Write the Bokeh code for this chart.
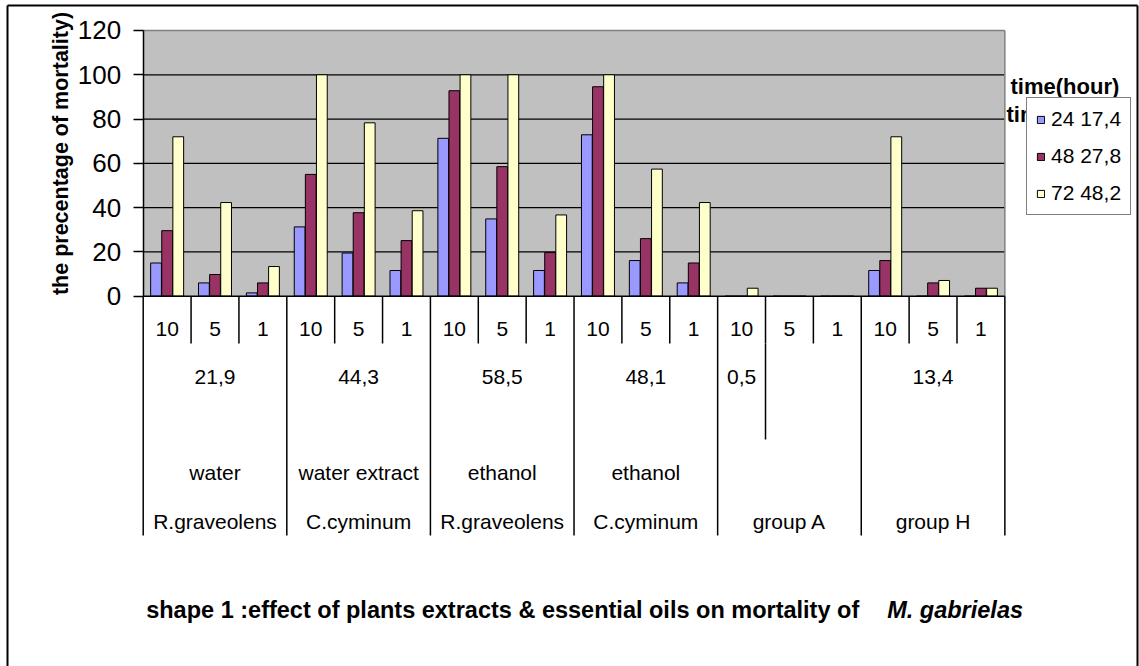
import numpy as np
from math import pi
from bokeh.plotting import figure
from bokeh.models import (ColumnDataSource, LinearAxis, FixedTicker, Range1d,
                          Legend, LegendItem)
from bokeh.core.properties import value
from bokeh.transform import dodge
from bokeh.embed import file_html
from bokeh.resources import INLINE

# ---------------- data ----------------
dose_labels = ["10", "5", "1", "10", "5", "1", "10", "5", "1",
               "10", "5", "1", "10", "5", "1", "10", "5", "1"]
lc50_labels = ["21,9", "44,3", "58,5", "48,1", "0,5", "", "13,4"]
lc50_spans = [3, 3, 3, 3, 1, 2, 3]          # dose columns covered by each LC50 cell
extract_labels = ["water", "water extract", "ethanol", "ethanol", "", ""]
species_labels = ["R.graveolens", "C.cyminum", "R.graveolens", "C.cyminum",
                  "group A", "group H"]
group_sizes = [3, 3, 3, 3, 3, 3]

mort_24 = [15.0, 6.0, 1.5, 31.3, 19.5, 11.6, 71.3, 34.9, 11.6,
           72.9, 16.1, 6.0, 0, 0, 0, 11.6, 0, 0]
mort_48 = [29.6, 9.8, 6.0, 55.0, 37.7, 25.1, 92.8, 58.5, 19.7,
           94.6, 26.0, 15.0, 0, 0, 0, 16.1, 6.0, 3.6]
mort_72 = [72.0, 42.3, 13.4, 100, 78.3, 38.6, 100, 100, 36.7,
           100, 57.4, 42.3, 3.6, 0, 0, 72.0, 7.1, 3.6]
series_labels = ["24 17,4", "48 27,8", "72 48,2"]
series_colors = ["#9999FF", "#993366", "#FFFFCC"]
y_ticks = [0, 20, 40, 60, 80, 100, 120]

y_title = "the precentage of mortality)"
legend_title = "time(hour)"
chart_title = "shape 1 :effect of plants extracts & essential oils on mortality of"
chart_title_species = "M. gabrielas"

# ---------------- geometry ----------------
W, H = 1139, 666
X0_PX, X_PX = 142.7, 47.87     # canvas px of x=0, px per category
Y0_PX, Y_PX = 295.7, 2.2142    # canvas px of y=0 (from top), px per %


def dx(px):
    return (px - X0_PX) / X_PX


def dy(py):
    return (Y0_PX - py) / Y_PX


FONT = value("Liberation Sans")
n = len(dose_labels)
ymax = y_ticks[-1]

p = figure(width=W, height=H, x_range=Range1d(dx(0), dx(W)),
           y_range=Range1d(dy(H), dy(0)), x_axis_type=None, y_axis_type=None,
           toolbar_location=None, output_backend="svg", title=None,
           min_border=0, min_border_left=0, min_border_right=0,
           min_border_top=0, min_border_bottom=0,
           outline_line_color=None, background_fill_color="white",
           border_fill_color="white")

# plot area
p.quad(left=0, right=n, bottom=0, top=ymax, fill_color="#C0C0C0", line_color=None)
grid_y = y_ticks[1:-1]
p.segment(x0=[0] * len(grid_y), x1=[n] * len(grid_y), y0=grid_y, y1=grid_y,
          line_color="black", line_width=1.2)
p.segment(x0=[0, n], x1=[n, n], y0=[ymax, 0], y1=[ymax, ymax],
          line_color="#808080", line_width=1.5)

# bars
src = ColumnDataSource(dict(x=np.arange(n) + 0.5, h24=mort_24, h48=mort_48, h72=mort_72))
bw = 0.225
renderers = []
for off, col, c in zip([-0.232, 0.0, 0.232], ["h24", "h48", "h72"], series_colors):
    r = p.vbar(x=dodge("x", off), top=col, width=bw, bottom=0, source=src,
               fill_color=c, line_color="black", line_width=1)
    renderers.append(r)

# baseline
p.segment(x0=[0], x1=[n], y0=[0], y1=[0], line_color="black", line_width=1.5)

# y axis
yax = LinearAxis(fixed_location=0, bounds=(0, ymax), ticker=FixedTicker(ticks=y_ticks))
yax.axis_line_color = "black"
yax.axis_line_width = 1.5
yax.major_tick_out = 10
yax.major_tick_in = 0
yax.major_tick_line_width = 1.5
yax.minor_tick_line_color = None
yax.major_label_text_font = "Liberation Sans"
yax.major_label_text_font_size = "26px"
yax.major_label_text_color = "black"
yax.major_label_standoff = 12
p.add_layout(yax, "left")

# category table lines
group_bounds = list(np.cumsum([0] + group_sizes))
inner_bounds = [i for i in range(1, n) if i not in group_bounds]
lc50_bounds = list(np.cumsum([0] + lc50_spans))
lc50_inner = [b for b in lc50_bounds if b not in group_bounds]
xs0, xs1, ys0, ys1 = [], [], [], []
for b in group_bounds:
    xs0.append(b); xs1.append(b); ys0.append(0); ys1.append(dy(535))
for b in inner_bounds:
    xs0.append(b); xs1.append(b); ys0.append(0); ys1.append(dy(343))
for b in lc50_inner:
    xs0.append(b); xs1.append(b); ys0.append(dy(343)); ys1.append(dy(439))
p.segment(x0=xs0, x1=xs1, y0=ys0, y1=ys1, line_color="black", line_width=1.5)

# category table labels
tk = dict(text_font=FONT, text_font_size=value("21px"), text_align="center",
          text_baseline="middle", text_color="black")
p.text(x=list(np.arange(n) + 0.5), y=[dy(328)] * n, text=dose_labels, **tk)

lc_x, lc_t = [], []
for a, b, t in zip(lc50_bounds[:-1], lc50_bounds[1:], lc50_labels):
    if t:
        lc_x.append((a + b) / 2); lc_t.append(t)
p.text(x=lc_x, y=[dy(376)] * len(lc_t), text=lc_t, **tk)

g_centers = [(a + b) / 2 for a, b in zip(group_bounds[:-1], group_bounds[1:])]
ex_x = [c for c, t in zip(g_centers, extract_labels) if t]
ex_t = [t for t in extract_labels if t]
p.text(x=ex_x, y=[dy(472)] * len(ex_t), text=ex_t, **tk)
p.text(x=g_centers, y=[dy(521)] * len(species_labels), text=species_labels, **tk)

# y-axis title
p.text(x=[dx(60)], y=[dy(153)], text=[y_title], angle=pi / 2, text_font=FONT,
       text_font_size=value("21.5px"), text_font_style="bold",
       text_align="center", text_baseline="middle", text_color="black")

# legend title (and the partly hidden duplicate)
p.text(x=[dx(1010)], y=[dy(86)], text=[legend_title], text_font=FONT,
       text_font_size=value("22px"), text_font_style="bold",
       text_align="left", text_baseline="middle", text_color="black")
p.text(x=[dx(1006)], y=[dy(114)], text=[legend_title], text_font=FONT,
       text_font_size=value("22px"), text_font_style="bold",
       text_align="left", text_baseline="middle", text_color="black")

# chart title
p.text(x=[dx(145.7)], y=[dy(609)], text=[chart_title], text_font=FONT,
       text_font_size=value("23.5px"), text_font_style="bold",
       text_align="left", text_baseline="middle", text_color="black")
p.text(x=[dx(886.7)], y=[dy(609)], text=[chart_title_species], text_font=FONT,
       text_font_size=value("23.5px"), text_font_style="bold italic",
       text_align="left", text_baseline="middle", text_color="black")

# outer frame (left, top, right; bottom lies outside the picture)
p.segment(x0=[dx(7), dx(7), dx(1137)], x1=[dx(7), dx(1137), dx(1137)],
          y0=[dy(H), dy(5), dy(H)], y1=[dy(5), dy(5), dy(5)],
          line_color="black", line_width=2)

# legend
legend = Legend(items=[LegendItem(label=s, renderers=[r]) for s, r in zip(series_labels, renderers)],
                location=(1026, H - 215.3))
legend.margin = 0
legend.padding = 9
legend.spacing = 13
legend.label_height = 24
legend.glyph_width = 9
legend.glyph_height = 9
legend.label_standoff = 6
legend.border_line_color = "black"
legend.border_line_width = 1.5
legend.background_fill_color = "white"
legend.background_fill_alpha = 1.0
legend.label_text_font = "Liberation Sans"
legend.label_text_font_size = "21px"
legend.label_text_color = "black"
p.add_layout(legend, "center")

open("out.html", "w").write(file_html(p, INLINE))
